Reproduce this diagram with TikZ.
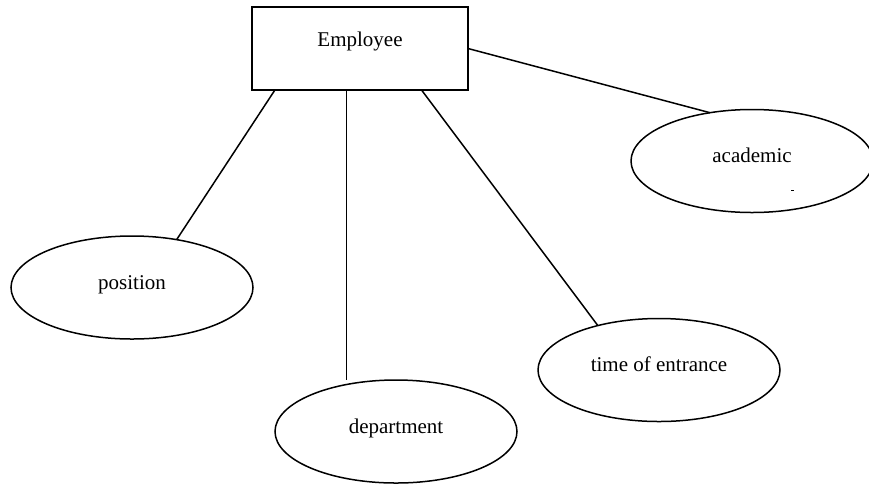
\documentclass[tikz,border=0pt]{standalone}
\usepackage{fontspec}
\setmainfont{Liberation Serif}
\usetikzlibrary{shapes.geometric}
\begin{document}
\begin{tikzpicture}[x=1pt,y=-1pt,
  every node/.style={font=\fontsize{21}{24}\selectfont, outer sep=0pt, inner sep=0pt},
  entity/.style={draw, line width=1.6pt, rectangle, minimum width=216pt, minimum height=83pt, text height=10pt, text depth=15pt},
  attr/.style={draw, line width=1.5pt, ellipse, minimum width=242pt, minimum height=103pt, text height=12pt, text depth=9pt},
  link/.style={line width=1.5pt}]
\useasboundingbox (0,0) rectangle (869,483);
\node[entity] (emp) at (360,48.5) {Employee};
\node[attr] (acad) at (752,161) {academic};
\node[attr] (pos) at (132,287.5) {position};
\node[attr] (dept) at (396,431.5) {department};
\node[attr] (time) at (659,370) {time of entrance};
\draw[link] (emp.east) -- (acad.131);
\draw[link] (emp.206) -- (pos.47);
\draw[link] (emp.252.6) -- (emp.252.6 |- dept.north);
\draw[link] (emp.326.2) -- (time.144);
\coordinate (dotA) at (791,190);
\coordinate (dotB) at (793.5,190);
\draw[line width=0.8pt] (dotA) -- (dotB);
\end{tikzpicture}
\end{document}
